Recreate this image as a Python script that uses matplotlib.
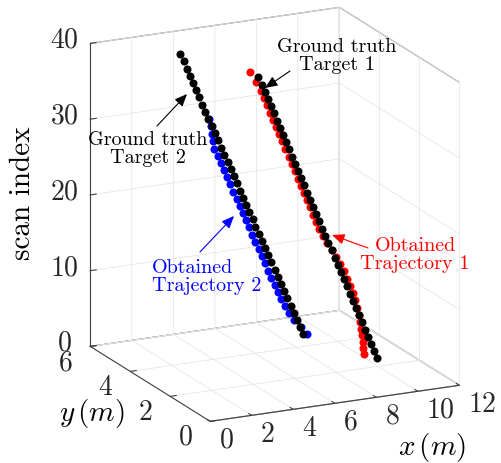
import matplotlib
matplotlib.use('Agg')
import matplotlib.pyplot as plt
from matplotlib.patches import FancyArrowPatch
from matplotlib.transforms import ScaledTranslation

# scan indices
scan = list(range(1, 41))
scan_est2 = list(range(1, 32))

# ground truth, target 1
gt1_x = [10.00, 9.86, 9.72, 9.57, 9.43, 9.29, 9.15, 9.00, 8.86, 8.72,
         8.58, 8.44, 8.29, 8.15, 8.01, 7.87, 7.72, 7.58, 7.44, 7.30,
         7.16, 7.01, 6.87, 6.73, 6.59, 6.44, 6.30, 6.16, 6.02, 5.88,
         5.73, 5.59, 5.45, 5.31, 5.16, 5.02, 4.88, 4.74, 4.60, 4.45]
gt1_y = [2.03, 2.04, 2.04, 2.04, 2.05, 2.05, 2.06, 2.06, 2.07, 2.07,
         2.08, 2.08, 2.09, 2.09, 2.09, 2.10, 2.10, 2.11, 2.11, 2.12,
         2.12, 2.13, 2.13, 2.14, 2.14, 2.14, 2.15, 2.15, 2.16, 2.16,
         2.17, 2.17, 2.18, 2.18, 2.18, 2.19, 2.19, 2.20, 2.20, 2.21]

# obtained trajectory 1
est1_x = [9.74, 9.62, 9.52, 9.42, 9.33, 9.24, 9.15, 9.07, 8.98, 8.87,
          8.73, 8.59, 8.44, 8.27, 8.08, 7.87, 7.67, 7.48, 7.29, 7.15,
          7.01, 6.86, 6.72, 6.58, 6.44, 6.29, 6.15, 6.01, 5.87, 5.78,
          5.63, 5.49, 5.35, 5.21, 5.06, 4.92, 4.78, 4.64, 4.55, 4.45]
est1_y = [2.41, 2.34, 2.26, 2.19, 2.13, 2.08, 2.06, 2.06, 2.07, 2.07,
          2.08, 2.08, 2.09, 2.09, 2.09, 2.10, 2.10, 2.11, 2.11, 2.12,
          2.12, 2.13, 2.13, 2.14, 2.14, 2.14, 2.15, 2.15, 2.16, 2.26,
          2.27, 2.27, 2.28, 2.28, 2.28, 2.29, 2.29, 2.30, 2.45, 2.61]

# ground truth, target 2
gt2_x = [8.60, 8.45, 8.30, 8.16, 8.01, 7.86, 7.71, 7.57, 7.42, 7.27,
         7.12, 6.98, 6.83, 6.68, 6.53, 6.38, 6.24, 6.09, 5.94, 5.79,
         5.65, 5.50, 5.35, 5.20, 5.06, 4.91, 4.76, 4.61, 4.46, 4.32,
         4.17, 4.02, 3.87, 3.73, 3.58, 3.43, 3.28, 3.14, 2.99, 2.84]
gt2_y = [4.30, 4.30, 4.30, 4.30, 4.30, 4.32, 4.32, 4.32, 4.32, 4.32,
         4.34, 4.34, 4.34, 4.34, 4.34, 4.36, 4.36, 4.36, 4.36, 4.36,
         4.38, 4.38, 4.38, 4.38, 4.38, 4.40, 4.40, 4.40, 4.40, 4.40,
         4.42, 4.42, 4.42, 4.42, 4.42, 4.44, 4.44, 4.44, 4.44, 4.44]

# obtained trajectory 2 (scans 1..31)
est2_x = [8.80, 8.50, 8.20, 7.96, 7.76, 7.58, 7.43, 7.29, 7.10, 6.95,
          6.80, 6.66, 6.51, 6.36, 6.21, 6.06, 5.92, 5.77, 5.62, 5.47,
          5.33, 5.18, 5.03, 4.88, 4.74, 4.59, 4.44, 4.36, 4.31, 4.27,
          4.22]
est2_y = [4.30, 4.30, 4.30, 4.30, 4.30, 4.32, 4.32, 4.32, 4.32, 4.32,
          4.34, 4.34, 4.34, 4.34, 4.34, 4.36, 4.36, 4.36, 4.36, 4.36,
          4.38, 4.38, 4.38, 4.38, 4.38, 4.40, 4.40, 4.40, 4.40, 4.40,
          4.42]

x_ticks = [0, 2, 4, 6, 8, 10, 12]
y_ticks = [0, 2, 4, 6]
z_ticks = [0, 10, 20, 30, 40]

W, H = 501, 463

plt.rcParams['font.family'] = 'cmr10'
plt.rcParams['mathtext.fontset'] = 'cm'
plt.rcParams['axes.formatter.use_mathtext'] = True
plt.rcParams['grid.color'] = '#e6e6e6'
plt.rcParams['grid.linewidth'] = 0.6
plt.rcParams['xtick.color'] = '0.25'
plt.rcParams['ytick.color'] = '0.25'
plt.rcParams['xtick.labelcolor'] = '0.15'
plt.rcParams['ytick.labelcolor'] = '0.15'

tick_size = 20
label_size = 21
note_size = 14.5


def fpos(px, py):
    # pixel position (from top-left) to figure fraction
    return (px / W, 1 - py / H)


fig = plt.figure(figsize=(W / 100, H / 100), dpi=100)
ax = fig.add_axes([0.0976, 0.0492, 0.878, 0.950], projection='3d',
                  computed_zorder=False)
ax.set_proj_type('ortho')
ax.view_init(elev=17.5, azim=-115.7)
ax.set_box_aspect((1, 1, 1.149), zoom=1.112)

ms = 5.8
ax.plot(est1_x, est1_y, scan, 'o', color='red', ms=ms, mec='none', zorder=2)
ax.plot(gt1_x, gt1_y, scan, 'o', color='black', ms=ms, mec='none', zorder=3)
ax.plot(est2_x, est2_y, scan_est2, 'o', color='blue', ms=ms, mec='none', zorder=2)
ax.plot(gt2_x, gt2_y, scan, 'o', color='black', ms=ms, mec='none', zorder=3)

ax.set_xlim(0, 12)
ax.set_ylim(0, 6)
ax.set_zlim(0, 40)
ax.set_xticks(x_ticks)
ax.set_yticks(y_ticks)
ax.set_zticks(z_ticks)

for axis in (ax.xaxis, ax.yaxis, ax.zaxis):
    axis.set_pane_color((1, 1, 1, 1))
    axis.pane.set_edgecolor('0.45')
    axis.pane.set_linewidth(0.8)
    axis.line.set_color('0.25')
    axis.line.set_linewidth(0.8)
    axis._axinfo['tick']['inward_factor'] = 0.0
    axis._axinfo['tick']['outward_factor'] = 0.3
    axis._axinfo['grid']['color'] = '#e6e6e6'
    axis._axinfo['grid']['linewidth'] = 0.6
ax.tick_params(axis='both', labelsize=tick_size)
ax.tick_params(axis='z', labelsize=tick_size)

# tick label anchoring per axis
for axis, ha, va in ((ax.xaxis, 'left', 'baseline'),
                     (ax.yaxis, 'right', 'baseline'),
                     (ax.zaxis, 'center', 'center')):
    for tick in axis.get_major_ticks():
        tick.label1.set_ha(ha)
        tick.label1.set_va(va)

# lift the z tick labels a little
lift = ScaledTranslation(0, 4 / 72, fig.dpi_scale_trans)
for tick in ax.zaxis.get_major_ticks():
    tick.label1.set_transform(tick.label1.get_transform() + lift)

# axis titles
fig.text(*fpos(432, 448), r'$x\,(m)$', fontsize=label_size, ha='center', va='center')
fig.text(*fpos(92, 413), r'$y\,(m)$', fontsize=label_size, ha='center', va='center')
fig.text(*fpos(23, 193), 'scan index', fontsize=label_size, ha='center', va='center',
         rotation=90)

# annotations
fig.text(*fpos(337, 56), 'Ground truth\nTarget 1', fontsize=note_size, ha='center',
         va='center', linespacing=1.0)
fig.text(*fpos(148, 149), 'Ground truth\nTarget 2', fontsize=note_size, ha='center',
         va='center', linespacing=1.0)
fig.text(*fpos(152, 277), 'Obtained\nTrajectory 2', fontsize=note_size, ha='left',
         va='center', color='blue', linespacing=1.0)
fig.text(*fpos(415, 255), 'Obtained\nTrajectory 1', fontsize=note_size, ha='center',
         va='center', color='red', linespacing=1.0)

arrows = [((290, 71), (265, 88), 'black'),
          ((157, 126), (187, 94), 'black'),
          ((200, 252), (234, 216), 'blue'),
          ((368, 248), (332, 235), 'red')]
for start, end, col in arrows:
    fig.add_artist(FancyArrowPatch(fpos(*start), fpos(*end), transform=fig.transFigure,
                                   arrowstyle='-|>,head_length=0.75,head_width=0.32',
                                   mutation_scale=10, color=col, lw=0.8,
                                   shrinkA=0, shrinkB=0))

fig.savefig('out.png', dpi=100)
